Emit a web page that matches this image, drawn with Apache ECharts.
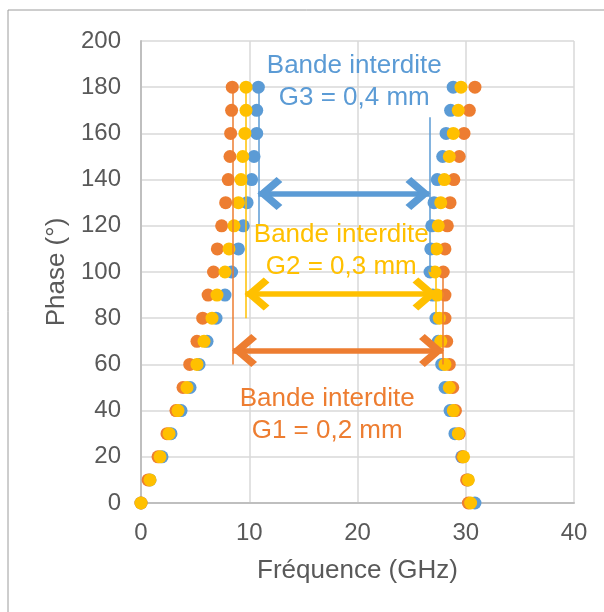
<!DOCTYPE html>
<html>
<head>
<meta charset="utf-8">
<script src="https://cdn.jsdelivr.net/npm/echarts@6/dist/echarts.min.js"></script>
<style>
html,body{margin:0;padding:0;background:#fff;}
#c{width:604px;height:612px;}
</style>
</head>
<body>
<div id="c"></div>
<script>
// Phase values (degrees) for each row of points
const phases = [0,10,20,30,40,50,60,70,80,90,100,110,120,130,140,150,160,170,180];

// Frequencies (GHz), lower branch (left) and upper branch (right)
const g1Left  = [0, 0.65, 1.57, 2.4, 3.23, 3.88, 4.5, 5.17, 5.7, 6.2, 6.7, 7.05, 7.45, 7.82, 8.06, 8.22, 8.28, 8.37, 8.43];
const g2Left  = [0, 0.83, 1.76, 2.59, 3.42, 4.25, 5.17, 5.82, 6.56, 7.02, 7.76, 8.13, 8.59, 9.0, 9.24, 9.4, 9.6, 9.7, 9.7];
const g3Left  = [0, 0.83, 1.94, 2.77, 3.7, 4.53, 5.36, 6.1, 6.93, 7.76, 8.37, 9.0, 9.45, 9.8, 10.22, 10.44, 10.69, 10.69, 10.84];
const g1Right = [30.24, 30.08, 29.72, 29.4, 29.05, 28.8, 28.48, 28.24, 28.08, 28.08, 27.92, 28.08, 28.3, 28.55, 28.9, 29.4, 29.84, 30.33, 30.85];
const g2Right = [30.45, 30.24, 29.8, 29.31, 28.85, 28.48, 28.08, 27.69, 27.56, 27.37, 27.16, 27.3, 27.46, 27.69, 28.02, 28.48, 28.85, 29.31, 29.56];
const g3Right = [30.85, 30.2, 29.63, 29.0, 28.55, 28.08, 27.78, 27.46, 27.25, 26.95, 26.7, 26.77, 26.86, 27.07, 27.37, 27.87, 28.18, 28.6, 28.84];

// Band-gap arrows: [fromGHz, toGHz, phase]
const g1Arrow = [8.5, 27.9, 66];
const g2Arrow = [9.65, 27.3, 90.5];
const g3Arrow = [10.84, 26.65, 134];

// Vertical marker lines: [GHz, phaseFrom, phaseTo]
const g1Marks = [[8.5, 60, 182], [27.9, 60, 98]];
const g2Marks = [[9.65, 80, 182], [27.25, 80, 99]];
const g3Marks = [[10.84, 120, 182], [26.63, 100, 167]];

// Annotation texts and their anchor (GHz, phase)
const g1Text = ['Bande interdite\nG1 = 0,2 mm', 17.2, 38];
const g2Text = ['Bande interdite\nG2 = 0,3 mm', 18.5, 109];
const g3Text = ['Bande interdite\nG3 = 0,4 mm', 19.7, 182.5];

const xTicks = {min: 0, max: 40, interval: 10};
const yTicks = {min: 0, max: 200, interval: 20};

const BLUE = '#5B9BD5', ORANGE = '#ED7D31', YELLOW = '#FFC000';
const chevron = 'path://M0,15 L15,0 L30,15 L25.5,19.5 L15,9 L4.5,19.5 Z';

function pts(left, right) {
  return left.map((x, i) => [x, phases[i]]).concat(right.map((x, i) => [x, phases[i]]));
}
function markLines(arrow, marks, color) {
  const data = [];
  marks.forEach(m => {
    data.push([{coord: [m[0], m[1]], symbol: 'none', lineStyle: {width: 1.5, color: color}},
               {coord: [m[0], m[2]], symbol: 'none'}]);
  });
  data.push([{coord: [arrow[0], arrow[2]], lineStyle: {width: 5.5, color: color}},
             {coord: [arrow[1], arrow[2]]}]);
  return {
    silent: true,
    animation: false,
    symbol: [chevron, chevron],
    symbolSize: [33, 25],
    symbolOffset: [[0, 11.5], [0, 11.5]],
    label: {show: false},
    lineStyle: {type: 'solid', color: color},
    data: data
  };
}
function textPoint(t, color) {
  return {
    silent: true,
    animation: false,
    symbol: 'circle',
    symbolSize: 0,
    data: [{coord: [t[1], t[2]]}],
    label: {
      show: true, position: 'inside', formatter: t[0],
      color: color, fontSize: 26, lineHeight: 32,
      fontFamily: 'Liberation Sans, Arial, sans-serif', align: 'center'
    }
  };
}
function series(name, left, right, color, arrow, marks, text, z) {
  return {
    name: name, type: 'scatter', z: z,
    symbol: 'circle', symbolSize: 13,
    itemStyle: {color: color, opacity: 1},
    data: pts(left, right),
    markLine: markLines(arrow, marks, color),
    markPoint: textPoint(text, color)
  };
}

const chart = echarts.init(document.getElementById('c'), null, {renderer: 'canvas'});
chart.setOption({
  animation: false,
  backgroundColor: '#fff',
  textStyle: {fontFamily: 'Liberation Sans, Arial, sans-serif'},
  graphic: [{type: 'rect', shape: {x: 8, y: 10, width: 700, height: 700},
             style: {fill: 'none', stroke: '#9c9c9c', lineWidth: 1}, z: -10}],
  grid: {left: 141, right: 30, top: 41, bottom: 109},
  xAxis: {
    type: 'value', min: xTicks.min, max: xTicks.max, interval: xTicks.interval,
    name: 'Fréquence (GHz)', nameLocation: 'middle', nameGap: 55,
    nameTextStyle: {color: '#595959', fontSize: 26},
    axisLine: {show: true, lineStyle: {color: '#BFBFBF', width: 2}},
    axisTick: {show: false},
    axisLabel: {color: '#595959', fontSize: 24, margin: 18},
    splitLine: {show: true, lineStyle: {color: '#D9D9D9', width: 1.5}}
  },
  yAxis: {
    type: 'value', min: yTicks.min, max: yTicks.max, interval: yTicks.interval,
    name: 'Phase (°)', nameLocation: 'middle', nameGap: 67, nameRotate: 90,
    nameTextStyle: {color: '#595959', fontSize: 26},
    axisLine: {show: true, lineStyle: {color: '#BFBFBF', width: 2}},
    axisTick: {show: false},
    axisLabel: {color: '#595959', fontSize: 24, margin: 20},
    splitLine: {show: true, lineStyle: {color: '#D9D9D9', width: 1.5}}
  },
  series: [
    series('G3', g3Left, g3Right, BLUE, g3Arrow, g3Marks, g3Text, 2),
    series('G1', g1Left, g1Right, ORANGE, g1Arrow, g1Marks, g1Text, 3),
    series('G2', g2Left, g2Right, YELLOW, g2Arrow, g2Marks, g2Text, 4)
  ]
});
</script>
</body>
</html>
